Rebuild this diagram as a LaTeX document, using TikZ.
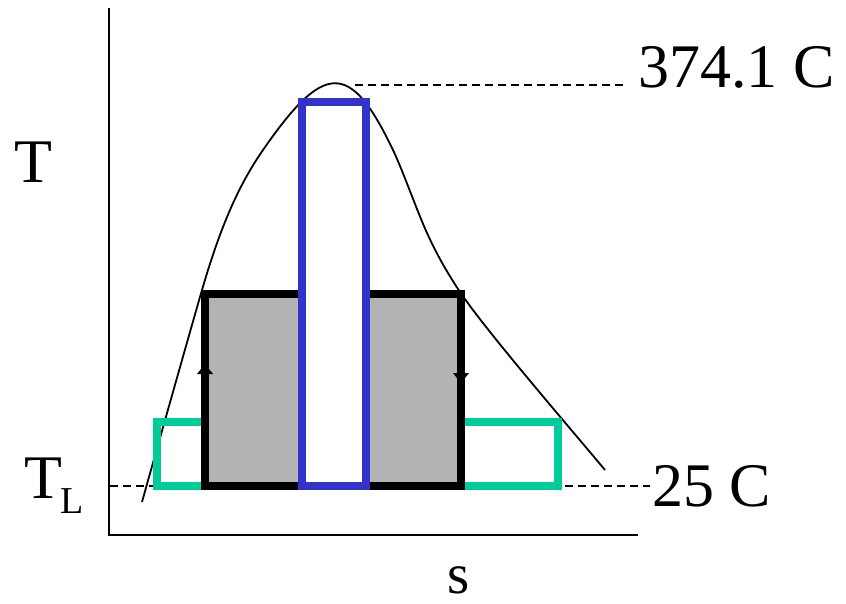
\documentclass[tikz,border=0pt]{standalone}
\usepackage{fontspec}
\setmainfont{Liberation Serif}
\definecolor{cycgreen}{HTML}{00CC99}
\definecolor{cycblue}{HTML}{3333CC}
\definecolor{cycgray}{HTML}{B3B3B3}
\begin{document}
\begin{tikzpicture}[x=1pt,y=-1pt,
  lbl/.style={anchor=base west, inner sep=0pt, text depth=0pt, font=\fontsize{62}{62}\selectfont},
  dashline/.style={line width=1.3pt, dash pattern=on 8pt off 5pt},
  axisline/.style={line width=2.5pt},
  cycbox/.style={line width=8pt},
  tip/.style={fill=black, draw=none}]
\useasboundingbox (0,0) rectangle (846,603);
% reference temperature lines
\draw[dashline] (110,486) -- (650,486);
\draw[dashline] (355,85) -- (625,85);
% axes
\draw[axisline] (109,8) -- (109,535) -- (638,535);
% saturation dome
\draw[line width=1.8pt]
  (142,502) .. controls (152,466) and (193,321) .. (202,290)
            .. controls (220,228) and (238,186) .. (263,150)
            .. controls (324,62) and (350,60) .. (393,150)
            .. controls (403,171) and (417,211) .. (427,233)
            .. controls (437,255) and (448,274) .. (460,292)
            .. controls (487,332) and (570,428) .. (605,470);
% cycles
\draw[cycbox, draw=cycgreen] (157,422) rectangle (557.5,486);
\draw[cycbox, draw=black, fill=cycgray] (205,294) rectangle (461,486);
\draw[cycbox, draw=cycblue, fill=white] (301.5,102) rectangle (365.5,486);
% direction arrowheads
\fill[tip] (205,364) -- (213,374) -- (197,374) -- cycle;
\fill[tip] (461,383) -- (469,373) -- (453,373) -- cycle;
% labels
\node[lbl] (tlab) at (14,182) {T};
\node[lbl] (tl) at (24,498) {T\kern-2pt\raisebox{-15pt}{\fontsize{38}{38}\selectfont L}};
\node[lbl] (tc) at (638,87) {374.1 C};
\node[lbl] (t25) at (652,506) {25 C};
\node[lbl, font=\fontsize{57}{57}\selectfont] (s) at (447,593) {s};
\end{tikzpicture}
\end{document}
